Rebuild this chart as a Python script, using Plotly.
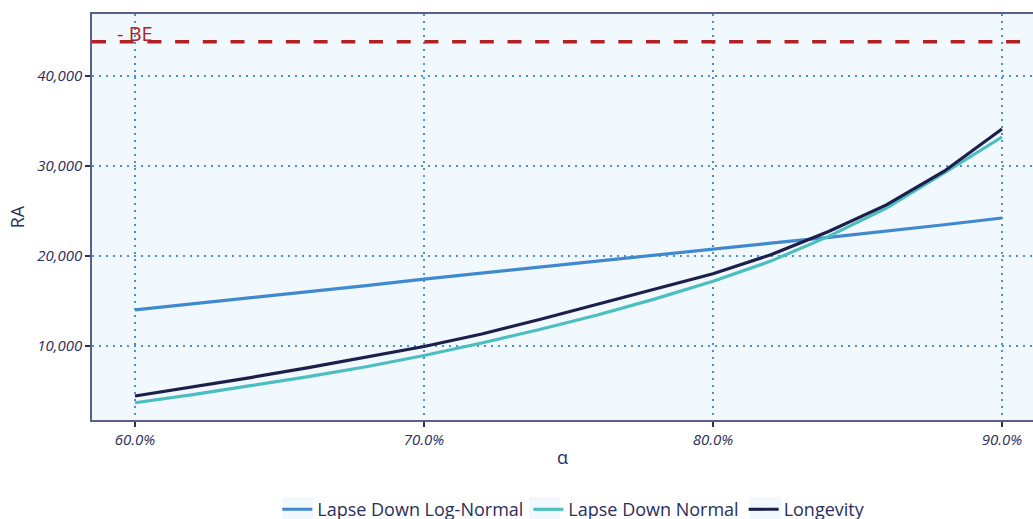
import plotly.graph_objects as go

alpha = [0.60, 0.62, 0.64, 0.66, 0.68, 0.70, 0.72, 0.74, 0.76, 0.78,
         0.80, 0.82, 0.84, 0.86, 0.88, 0.90]
lapse_down_lognormal = [13975, 14630, 15290, 15960, 16680, 17400, 18080, 18700,
                        19380, 20050, 20730, 21400, 22030, 22700, 23440, 24190]
lapse_down_normal = [3650, 4550, 5550, 6550, 7650, 8900, 10300, 11800,
                     13400, 15200, 17150, 19400, 22150, 25300, 29200, 33200]
longevity = [4400, 5400, 6450, 7550, 8700, 9900, 11300, 12900,
             14600, 16300, 18000, 20100, 22700, 25650, 29400, 34100]
be_value = 43800
be_label = "- BE"

series = [
    ("Lapse Down Log-Normal", lapse_down_lognormal, "#4189cf"),
    ("Lapse Down Normal", lapse_down_normal, "#4bbfbf"),
    ("Longevity", longevity, "#1d1f4b"),
]

navy = "#2b2e5c"
key_bg = "#f1f8fe"
font_family = "Open Sans, Noto Sans, sans-serif"

fig = go.Figure()
for name, vals, col in series:
    fig.add_trace(go.Scatter(x=alpha, y=vals, mode="lines", name=name,
                             line=dict(color=col, width=3.2)))

fig.add_hline(y=be_value, line=dict(color="#b22222", width=3.5, dash="14px,13.7px"))
fig.add_annotation(x=0.59308, y=be_value, xref="x", yref="y", text=be_label,
                   showarrow=False, xanchor="left", yanchor="bottom", yshift=-7,
                   font=dict(color="#b22222", size=20, family=font_family))

# light key backgrounds behind the legend symbols (pixel -> paper)
plot_l, plot_w, plot_b, plot_h = 92, 941, 420, 406
for x0 in (282, 529, 750):
    fig.add_shape(type="rect", xref="paper", yref="paper",
                  x0=(x0 - plot_l) / plot_w, x1=(x0 + 31 - plot_l) / plot_w,
                  y0=(plot_b - 497) / plot_h, y1=(plot_b - 522) / plot_h,
                  fillcolor=key_bg, line=dict(width=0), layer="below")

grid = dict(showgrid=True, gridcolor="#4a90d9", gridwidth=2, griddash="2px,5px",
            zeroline=False, showline=True, linecolor="#5c6088", linewidth=1.5,
            mirror=True, ticks="outside", ticklen=5, tickwidth=2, tickcolor=navy,
            automargin=False,
            tickfont=dict(size=15, color=navy, family=font_family, style="italic"))

fig.update_layout(
    width=1033, height=519,
    margin=dict(l=92, r=0, t=14, b=99, autoexpand=False),
    paper_bgcolor="white", plot_bgcolor="#f1f8fe",
    font=dict(family=font_family, color=navy),
    showlegend=True,
    legend=dict(orientation="h", x=0.512, xanchor="center", y=-0.175, yanchor="top",
                font=dict(size=18, color=navy, family=font_family),
                bgcolor="rgba(0,0,0,0)"),
)
fig.update_xaxes(range=[0.58512, 0.91073], tickvals=[0.6, 0.7, 0.8, 0.9],
                 tickformat=".1%",
                 title=dict(text="α", font=dict(size=18, color=navy), standoff=4),
                 **grid)
fig.update_yaxes(range=[1730, 46880], tickvals=[10000, 20000, 30000, 40000],
                 tickformat=",",
                 title=dict(text="RA", font=dict(size=18, color=navy), standoff=8),
                 **grid)

fig.write_html("out.html", config={"displayModeBar": False},
               post_script="document.body.style.margin='0';"
                           "document.body.style.overflow='hidden';")
